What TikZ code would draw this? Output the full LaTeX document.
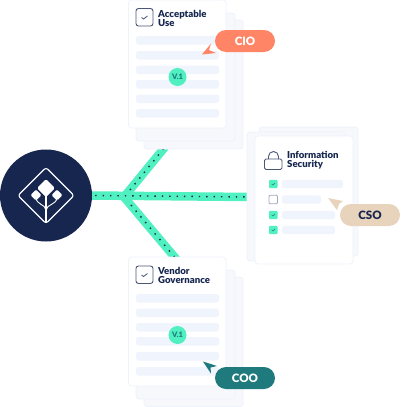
\documentclass[tikz,border=0pt]{standalone}
\usepackage{fontspec}
\setmainfont{Lato}[BoldFont={Lato Black}]
\definecolor{navy}{HTML}{16264F}
\definecolor{mint}{HTML}{50F0C0}
\definecolor{cardedge}{HTML}{EDF2FB}
\definecolor{backfill}{HTML}{F6F8FC}
\definecolor{barfill}{HTML}{F0F4FD}
\definecolor{cio}{HTML}{FF8566}
\definecolor{cso}{HTML}{E8D3BD}
\definecolor{coo}{HTML}{1E7A7C}
\definecolor{boxedge}{HTML}{4A5578}
\tikzset{
  frontcard/.style={draw=cardedge,fill=white,line width=0.7pt,rounded corners=3pt},
  backcard/.style={draw=cardedge,fill=backfill,line width=0.7pt,rounded corners=3pt},
  bar/.style={fill=barfill,rounded corners=2.5pt},
  branch/.style={draw=mint,line width=8.5pt},
  dots/.style={draw=navy,line width=1.4pt,dash pattern=on 1.4pt off 6pt},
  title/.style={anchor=base west,inner sep=0pt,text=navy,font=\fontsize{9.6}{10}\selectfont\bfseries},
  pill/.style={rounded corners=11pt,minimum width=60pt,minimum height=22pt,inner sep=0pt,font=\fontsize{11.5}{12}\selectfont\bfseries},
  version/.style={circle,fill=mint,minimum size=18pt,inner sep=0pt,text=coo,font=\fontsize{7.5}{8}\selectfont\bfseries},
  tick/.style={draw=boxedge,fill=white,line width=0.9pt,rounded corners=2.5pt},
  minibox/.style={rounded corners=1pt},
  logo/.style={draw=white,line width=1.1pt,line join=round}
}
\begin{document}
\begin{tikzpicture}[x=1pt,y=-1pt]
\useasboundingbox (0,0) rectangle (400,407);
% hub and connectors
\node[circle,fill=navy,minimum size=92pt,inner sep=0pt] (hub) at (46,195.5) {};
\coordinate (fork) at (124,197);
\coordinate (eastEnd) at (250,197);
\coordinate (northEnd) at (165,147);
\coordinate (southEnd) at (177,260);
\draw[branch] (fork) -- (northEnd);
\draw[branch] (fork) -- (southEnd);
\draw[branch] (hub.east) -- (eastEnd);
\draw[dots] ([xshift=3pt]hub.east) -- (eastEnd);
\draw[dots] ([shift={(7,8)}]fork) -- (southEnd);
\draw[dots] ([shift={(6,-7)}]fork) -- (northEnd);
% logo
\draw[logo,rounded corners=2.5pt] (46,167.5) -- (74,195.5) -- (46,223.5) -- (18,195.5) -- cycle;
\fill[white,rounded corners=1.5pt] (46,179) -- (55,188) -- (46,197) -- (37,188) -- cycle;
\fill[white,rounded corners=1.2pt] (36,189.5) -- (41.5,195) -- (36,200.5) -- (30.5,195) -- cycle;
\fill[white,rounded corners=1.2pt] (57,189.5) -- (62.5,195) -- (57,200.5) -- (51.5,195) -- cycle;
\draw[logo] (46,190) -- (46,222);
\draw[logo,line width=0.9pt] (36,198) .. controls (37,205) and (45,204) .. (46,210);
\draw[logo,line width=0.9pt] (57,198) .. controls (56,205) and (47,204) .. (46,210);
% Acceptable Use
\draw[backcard] (144,20) rectangle (243,149);
\draw[backcard] (136,13) rectangle (235,141);
\draw[frontcard] (128.5,0) rectangle (226,128);
\draw[tick] (136,8.5) rectangle (153,26);
\draw[boxedge,line width=0.8pt] (141.5,17.5) -- (143.5,19) -- (147.5,16);
\node[title] (t1a) at (158,17) {Acceptable};
\node[title] (t1b) at (158,26) {Use};
\foreach \y in {36,51,65.5,80,94.5,109}
  \fill[bar] (136,\y) rectangle (219,\y+8.5);
\node[version] (v1) at (177.5,77) {V.1};
\fill[cio] (202,54.5) -- (211,43.5) -- (209,50) -- (216,53) -- cycle;
\node[pill,fill=cio,text=white] (cioPill) at (245,41) {CIO};
% Information Security
\draw[backcard] (259,127) rectangle (358,256);
\draw[backcard] (247,132) rectangle (345,261);
\draw[frontcard] (255,136) rectangle (353,264);
\draw[tick,rounded corners=1.5pt] (264.5,159) rectangle (282,169.5);
\draw[boxedge,line width=0.9pt] (268.5,159) -- (268.5,156.5) arc[start angle=180,end angle=360,radius=5] -- (278.5,159);
\node[title] (t2a) at (287,158) {Information};
\node[title] (t2b) at (287,167) {Security};
\foreach \y/\w in {184/343,199.5/321,215/335,230/335}
  \fill[bar] (282,\y-4.2) rectangle (\w,\y+4.2);
\foreach \y in {184,215,230}{
  \fill[mint,minibox] (269,\y-4.2) rectangle (277.5,\y+4.2);
  \draw[coo,line width=0.5pt] (271.7,\y) -- (273,\y+1) -- (275,\y-1);
}
\draw[draw=boxedge!50,line width=0.8pt,minibox] (269,195.2) rectangle (277.5,203.8);
\fill[cso] (328,198) -- (343,201) -- (339,204) -- (337,210) -- cycle;
\node[pill,fill=cso,text=navy] (csoPill) at (370,215) {CSO};
% Vendor Governance
\draw[backcard] (144,277) rectangle (243,406.5);
\draw[backcard] (136,270) rectangle (235,399);
\draw[frontcard] (128.5,257) rectangle (226,386);
\draw[tick] (136,266) rectangle (153,283.5);
\draw[boxedge,line width=0.8pt] (141.5,275) -- (143.5,276.5) -- (147.5,273.5);
\node[title] (t3a) at (158,274) {Vendor};
\node[title] (t3b) at (158,283) {Governance};
\foreach \y in {294,308.5,323,337,352,367}
  \fill[bar] (136,\y) rectangle (219,\y+8.5);
\node[version] (v3) at (177.5,335) {V.1};
\fill[coo] (203,361.5) -- (217,366) -- (210.5,367.5) -- (211,373.5) -- cycle;
\node[pill,fill=coo,text=white] (cooPill) at (245,378) {COO};
\end{tikzpicture}
\end{document}
